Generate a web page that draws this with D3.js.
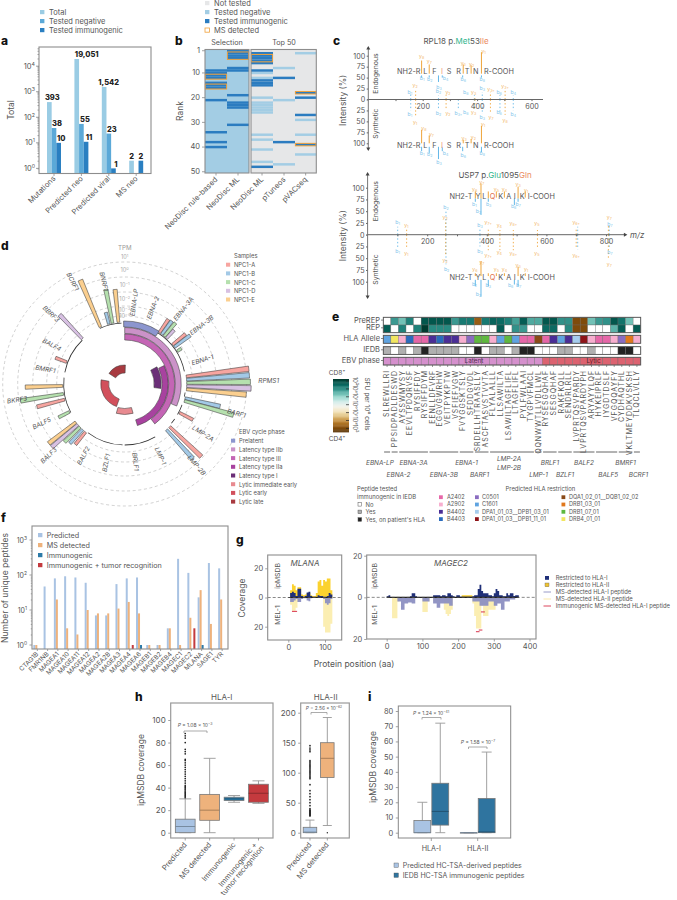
<!DOCTYPE html>
<html><head><meta charset="utf-8">
<script src="https://cdnjs.cloudflare.com/ajax/libs/d3/7.8.5/d3.min.js"></script>
<style>html,body{margin:0;padding:0;background:#fff}svg{display:block}text{font-family:Inter,"Open Sans",sans-serif;fill:#555}</style>
</head><body>
<script>
// ---------- panel a
const aCats=["Mutations","Predicted neo","Predicted viral","MS neo"];
const aTotal=[393,19051,1542,2];
const aNeg=[38,55,23,0];
const aImm=[10,11,1,2];
const aText=[["393","38","10"],["19,051","55","11"],["1,542","23","1"],["2","","2"]];
// ---------- panel b
const bCols=["NeoDisc rule-based","NeoDisc ML","NeoDisc ML","pTuneos","pVACseq"];
const bImm=[[9,10,11,12,14,15,16,21,34,38,40],[1,2,3,4,8,9,19,22,23,24,31],[2,3,4,5,6,9,13,14,15,48],[12,38],[18,20,27,39]];
const bNeg=[[],[],[10,12,20,22,23,24,25,26,35,37,41,46],[8,21,47],[2,29,35,43]];
const bMS=[[11,12,15,16],[2,3,4],[3,4,5],[],[18,39]];
const bTicks=[1,10,20,30,40,50];
// ---------- panel c
const uPeaks=[[156,12,-25,"b"],[174,20,-37,"y"],[258,9,-21,"b"],[286,10,-20,"y"],[331,0,-20,"b"],[390,10,-22,"b"],[392,8,-20,"y"],[419,17,-33,"b"],[449,17,-29,"y"],[484,10,-29,"b"],[503,20,-35,"y"],[533,9,-25,"b"]];
const uPeakLabels=[[153,17,"b1"],[153,-34,"b1"],[172,32,"y2"],[172,-52,"y1"],[258,18,"b2"],[293,17,"y2"],[258,-33,"b2"],[293,-33,"y2"],[331,-33,"b3+"],[358,17,"b6"],[387,17,"y3"],[358,-29,"b6"],[387,-29,"y3"],[419,24,"b3"],[419,-42,"b3"],[451,22,"y3+"],[451,-42,"y7"],[481,17,"b6"],[481,-29,"b6"],[503,30,"y3+"],[503,-48,"y8"],[533,17,"b4"],[533,-34,"b4"]];
const uMarks=[[196,59,89,"y"],[224,59,80,"y"],[349,59,80,"y"],[378,59,78,"y"],[416,59,108,"y"],[196,55,50,"b"],[224,55,50,"b"],[258,55,40,"b"],[272,55,50,"b"],[347,55,50,"b"],[416,55,50,"b"],
 [196,-69,-100,"y"],[224,-82,-100,"y"],[349,-92,-100,"y"],[378,-90,-100,"y"],[416,-60,-100,"y"],[196,-108,-118,"b"],[224,-108,-122,"b"],[258,-108,-136,"b"],[272,-108,-118,"b"],[347,-108,-118,"b"],[416,-108,-120,"b"]];
const uMarkLabels=[[196,98,"y8"],[224,86,"y7"],[349,82,"y3"],[380,80,"y2"],[424,110,"y1"],[198,47,"b1"],[226,45,"b2"],[260,27,"b3"],[284,47,"b4"],[349,45,"b6"],[419,45,"b8"],
 [204,-67,"y8"],[232,-81,"y7"],[352,-88,"y3"],[386,-87,"y2"],[422,-56,"y1"],[198,-124,"b1"],[226,-126,"b2"],[260,-143,"b3"],[284,-124,"b4"],[349,-128,"b6"],[419,-124,"b8"]];
const uSeq=[["NH2-R",192,"end"],["L",210],["F",243],["I",271,"middle","#ef9a80"],["S",297],["R",332],["T",363],["N",395],["R-COOH",425,"start"]];
const lPeaks=[[101,17,-28,"b"],[131,12,-29,"y"],[263,49,-63,"b"],[262,31,-43,"y"],[377,15,-25,"b"],[405,13,-33,"y"],[444,10,-33,"y"],[489,10,-33,"y"],[570,10,-28,"y"],[700,13,-29,"y"],[705,17,-31,"b"],[811,20,-30,"b"],[808,20,-50,"y"]];
const lPeakLabels=[[101,26,"b1"],[101,-35,"b1"],[130,19,"y1"],[130,-41,"y1"],[263,58,"b2"],[260,37,"y2"],[260,-55,"y2"],[265,-73,"b2"],[377,20,"b3"],[377,-36,"b3"],[405,25,"y7+"],[405,-45,"y7+"],[442,19,"y4"],[442,-37,"y4"],[489,24,"y8+"],[489,-40,"y8+"],[568,23,"y5"],[568,-39,"y5"],[700,25,"y6+"],[700,-45,"y6+"],[811,36,"y7"],[813,22,"b7"],[813,-38,"b7"],[811,-63,"y7"]];
const lMarks=[[361.5,77,92,"y"],[380.5,77,109,"y"],[405,77,92,"y"],[432,79,92,"y"],[459,79,92,"y"],[505,77,102,"y"],[529,79,92,"y"],[361.5,77,70,"b"],[380.5,77,42,"b"],[405,77,70,"b"],[492.5,77,63,"b"],[505,77,70,"b"],
 [361.5,-82,-88,"y"],[380.5,-56,-88,"y"],[405,-82,-88,"y"],[432,-82,-88,"y"],[459,-82,-88,"y"],[505,-68,-88,"y"],[529,-82,-88,"y"],[361.5,-96,-110,"b"],[380.5,-96,-132,"b"],[405,-96,-110,"b"],[492.5,-96,-106,"b"],[505,-96,-110,"b"]];
const lMarkLabels=[[359,97,"y6"],[383,111,"y7"],[432,97,"y5"],[459,97,"y4"],[505,106,"y3"],[532,95,"y1"],[358,65,"b1"],[372,49,"b2"],[406,65,"b3"],[490,61,"b6"],[505,65,"b7"],
 [360,-75,"y6"],[383,-59,"y7"],[432,-75,"y5"],[459,-75,"y4"],[505,-66,"y3"],[532,-75,"y1"],[358,-107,"b1"],[372,-128,"b2"],[405,-109,"b3"],[480,-109,"b6"],[507,-109,"b7"]];
const lSeq=[["NH2-T",351.5,"end"],["Y",370.5],["L",391.7],["Q",419.7,"middle","#e2704c"],["K",446.5],["A",473.4],["I",493.5],["K",519.2],["I-COOH",537,"start"]];
// ---------- panel d
const dSamples=["NPC1-A","NPC1-B","NPC1-C","NPC1-D","NPC1-E"];
const dPhases=["Prelatent","Latency type IIb","Latency type III","Latency type IIa","Latency type I","Lytic immediate early","Lytic early","Lytic late"];
const dRadiusLog=[-4,-3,-2,-1,0,1];
const dBars=[ // angle (deg), log10 TPM, sample index
 [34,-2.0,0],[36.8,-1.95,1],[39.7,-1.9,2],[42.5,-2.5,3],[50.6,-1.95,0],[53.4,-1.75,1],[58,-3.2,2],
 [83,1.2,0],[86,1.2,1],[89,1.25,2],[92,1.3,3],[95,1.0,4],[103.2,-0.6,1],[105.9,0.4,2],[117.7,-2.1,0],
 [133.5,-0.1,0],[137.6,-0.4,1],[-140.8,-2.0,0],[-137.3,-1.8,1],[-134,-1.6,2],[-130.9,-0.7,3],[-128,-0.7,4],
 [-116.8,-2.4,2],[-104.6,-1.1,0],[-99.2,-0.1,2],[-91.8,-0.5,4],[-69.3,-2.4,0],[-43.2,-0.8,3],[-23.1,0.4,4],[-14.8,-2.4,1],[-11.3,-0.7,2],[-5.8,-0.8,4]];
const dGeneArcs=[[-24,-3],[-79,-44],[-118,-84],[-178,-143],[150,180],[125,130],[110,120],[98,102],[33,78]];
const dGeneLabels=[["EBNA-LP",8,84],["EBNA-2",21.4,83],["EBNA-3A",38.6,97],["EBNA-3B",53,98],["EBNA-1",73,82],["RPMS1",88.7,144],["BARF1",104.8,115],["LMP-2A",122.6,91.5],["LMP-2B",139,107],["LMP-1",154.6,78.6],["BRLF1",173.5,76.5],["BZLF1",-168,79],["BALF2",-151,81],["BALF3",-133.6,103],["BALF5",-115.6,91],["BKRF3",-98.5,108.5],["BMRF1",-79.6,81],["BALF4",-62,83.6],["BBRF3",-46.8,103],["BCRF1",-27.6,116.6],["BNRF1",-12.5,106.5]];
const dPhaseArcs=[[0,-1,33],[1,0,113],[2,0,143],[3,65,163],[4,62,97],[5,164,196],[6,-160,-80],[7,-56,2]];
// ---------- panel e
const ePeptides=["SLREWLLRI","PPSIDPADLDESWD","AYSSWMYSY","EEVLTPDQRVSF","RYSIFFDY","RYSIFFDYM","EENLLDFVRF","EGGVGWRHW","VEITPYKPTW","VSFIEFVGW","FVYGGSKTSLY","SFDDGVDL","SRDELLHTRAASLLY","ASCFTASVSTVVTA","FLYALALLL","LLSAWILTA","LSAWILTAGFLIFL","LTAGFLIFL","PYLFWLAAI","TYGPVFMCL","QQNWWTLLVDLLWL","RYSESGQHAF","SESGQHAF","RAKFKQLL","SENDRLRLL","LVPRTQSVPARDY","LVPRTQSVPARDYPH","ARYAYYLQF","HYKEIPRLF","IYGDTDSLF","VFGQQAYFY","CYDHAQTHL","VKLTMEYDDKVSKSH","TLQCLVLLY"];
const ePreRep=[null,1.9,1.4,2.2,null,2.8,2.8,2.8,2.8,1.9,2.3,2.3,-2.4,2.3,2.6,2.5,2.2,1.8,2.7,1.7,1.7,2.8,2.8,2.0,2.0,-2.7,-2.7,1.4,1.9,2.0,2.8,2.4,1.4,null];
const eRep=[2.7,null,2.2,null,2.2,3.2,2.1,2.1,2.1,null,null,null,null,null,null,2.7,null,2.0,1.9,null,null,2.5,2.5,null,2.1,-2.7,-2.7,null,null,null,1.6,2.7,null,2.7];
const eAlleleNames=["A2402","A2902","B4402","B4403","C0501","C1601","DPA1_01_03__DPB1_03_01","DPA1_01_03__DPB1_11_01","DQA1_02_01__DQB1_02_02","DRB1_03_01","DRB1_07_01","DRB4_01_01"];
const eAlleleColors=["#e667a8","#f7aecf","#4a2d96","#2a6bbd","#8a6cc0","#5fa3e0","#a6cdee","#8e1318","#8a4a17","#e0781c","#5fb83f","#f2e661"];
const eAllele=[5,11,1,3,0,0,2,3,2,2,1,4,10,10,1,5,10,5,0,0,8,0,2,5,2,6,7,1,0,0,1,4,9,1];
const eIedb=[1,0,1,0,1,2,1,1,1,1,0,0,2,0,1,1,0,1,2,2,0,0,0,1,1,0,0,1,0,0,0,2,2,0];
const eIedbLegend=["No","Yes","Yes, on patient's HLA"];
const eGenes=[["EBNA-LP",0,0,-0.95,0],["EBNA-2",1,1,1.5,1],["EBNA-3A",2,5,3.5,0],["EBNA-3B",6,9,7.5,1],["EBNA-1",10,11,10.5,0],["BARF1",12,13,12.2,1],["LMP-1",20,20,20,1],["BRLF1",21,22,21.5,0],["BZLF1",23,24,23.5,1],["BALF2",25,27,26,0],["BALF5",28,30,29.2,1],["BMRF1",31,32,31.5,0],["BCRF1",33,33,33.2,1]];
const eLmpLines=[14,19];
const eColorTicks=["10\u00b3","10\u00b2","10\u00b9","10\u2070","10\u00b9","10\u00b2","10\u00b3"];
// ---------- panel f
const fGenes=["CTAG1B","FMR1NB","MAGEA1","MAGEA10","MAGEA11","MAGEA12","MAGEA2","MAGEA2B","MAGEA3","MAGEA4","MAGEA6","MAGEB1","MAGEB2","MAGEB4","MAGEC1","MAGEC2","MLANA","SAGE1","TYR"];
const fPred=[1,47,80,92,85,60,7,7,55,80,85,1,1,3,290,115,23,220,155];
const fMS=[1,0,20,3,2,10,8,8,11,17,8,1,1,3,1,6,37,4,20];
const fImm=[0,0,0,0,0,0,0,0,0,0,1,0,0,0,0,0,1,0,0];
const fTum=[0,0,0,0,0,0,0,0,0,1,0,0,0,0,0,3,0,0,0];
const fSeries=["Predicted","MS detected","Immunogenic","Immunogenic + tumor recognition"];
// ---------- panel g (step 5 aa)
const gMlanaTopII=[0,5,9,8,5,7,7,2,1.5,2,3,3,1.5,1,1,3,11,12,8,12,11,13,13,5,0];
const gMlanaTopI=[0,3,4,3,1,6,6,1,.5,1,3.5,4,1,.5,.5,.5,1.5,1,1,.5,.5,1,3,2,0];
const gMlanaBotI=[0,3,3,2,1,3,3,1,.5,.5,2,2.5,.5,.2,.2,.2,.2,.2,.2,1,4,5,4,1,0];
const gMlanaBotII=[0,5,9,9,7,3,0,0,0,0,0,0,0,0,0,0,0,0,0,20,24,24,24,18,0];
const gMagecTopI=[.5,1,0,0,0,0,0,0,0,0,0,0,0,.5,2,2,.5,0,0,0,0,0,0,0,0,0,1,1,1,1,.5,1,1,.5,2,2,1,.5,0,1,1,.3,.3,.3,.3,.3,.3,.3,.5,1,1,4,6,3,2,2,2,1,1,.5,2,4,3,1,1,.5,.5,2,1,2,2,.7,1,1,0];
const gMagecTopII=[0,0,0,0,0,0,0,0,0,0,0,0,0,0,0,0,0,0,0,0,0,0,0,0,0,0,0,0,0,0,0,0,0,0,0,0,0,0,0,0,0,0,1,1,1,1,1,1,0,0,0,0,0,0,0,0,0,0,0,0,0,0,0,0,0,0,0,0,0,0,0,0,0,0,0];
const gMagecBotI=[0,0,0,0,0,0,2,2,6,6,3,3,2.5,2.5,3,3,0,0,0,0,2,2,2,2,0,0,3,3,5,5,3,3,3,3,3,4,4,0,0,0,0,0,0,0,0,0,0,0,2,2,2,2,4,4,4,4,4,2,2,2,4,4,3,3,6,6,2,2,2,1,1,1,0,0,0];
const gMagecBotII=[0,0,0,10,10,10,2,0,0,0,0,0,0,0,0,0,0,0,0,0,7,7,7,2,0,0,2,2,2,2,0,0,6,8,9,8,6,0,0,0,0,0,0,0,0,0,0,0,3,9,15,15,15,4,9,9,9,6,6,6,6,0,0,0,0,0,0,0,0,0,0,0,0,0,0];
const gMlanaRed=[[10,24,9.5]];
const gMagecRed=[[264,275,7],[250,260,16.5],[258,268,15.7]];
const gLegend=["Restricted to HLA-I","Restricted to HLA-II","MS-detected HLA-I peptide","MS-detected HLA-II peptide","Immunogenic MS-detected HLA-I peptide"];
// ---------- panel h
const hCats1=["Predicted","MS detected","Immunogenic","Immunogenic +\ntumor recognition"];
const hStats1=[[0,0,5.5,12,30],[0,11,20,34,66],[27,28.5,30,31.5,33],[26,27,35,43,46]];
const hOut1=[31,32,33,34,35,36,37,38,39,40,41,42,44,46,48,50,52,54,56,58,60,62,64,65,70,72,74,80,84,86,88];
const hCats2=["Predicted","MS detected"];
const hStats2=[[0,0,1,9,21],[12,92,124,150,192]];
const hOut2=[28,29,30,31,32,33,34,35,36,37,38,40,45,50,55,60,65,70,80,90,92,94,96,98,100,102,104,106,108,110,112,114,116,118,120,135,138,141,145];
const hOut2b=[0];
// ---------- panel i
const iCats=["HLA-I","HLA-II"];
const iSeries=["Predicted HC-TSA-derived peptides","IEDB HC-TSA immunogenic peptides"];
const iStats=[[[0,0,0,8,20],[0,5,14,32.5,72]],[[0,0,0,0,0],[0,0,.5,22.5,53]]];

// ---------- shared colours
const cGrey="#8a8a8a";
const cB="#63b8e8", cY="#efa53b";
const cSamp=["#f7a5a0","#a3c9e6","#b5e0ae","#d7c0e2","#fbcf8f"];
const cPhase=["#8c96cf","#cb92c8","#c465b5","#a8429f","#6b2f78","#e88a90","#d2505c","#a83a40"];
const cSer=["#a9c3e3","#eeb27c","#2c7aa8","#c43a3e"];

const svg=d3.select("body").append("svg").attr("width",677).attr("height",900).attr("viewBox","0 0 677 900");
function T(g,x,y,s,o={}){
  const t=g.append("text").attr("x",0).attr("y",0).attr("transform",`translate(${x},${y})`+(o.rot?` rotate(${o.rot})`:""))
   .attr("text-anchor",o.a||"start").attr("font-size",o.s||7.5).text(s);
  if(o.f)t.style("fill",o.f); if(o.w)t.attr("font-weight",o.w); if(o.i)t.attr("font-style","italic"); if(o.ls)t.attr("letter-spacing",o.ls);
  return t;
}
function T2(g,x,y,parts,o={}){
  const t=T(g,x,y,"",o);
  parts.forEach(p=>{const sp=t.append("tspan").text(p[0]);const q=p[1]||{};
    if(q.f)sp.style("fill",q.f);
    if(q.sup){sp.attr("dy",-(o.s||7.5)*.4).attr("font-size",(o.s||7.5)*.7);}
  });
  return t;
}
function frame(g,x0,y0,x1,y1,c="#8d8d8d",w=1.1){g.append("rect").attr("x",x0).attr("y",y0).attr("width",x1-x0).attr("height",y1-y0).attr("fill","none").attr("stroke",c).attr("stroke-width",w);}
function styleAxis(a){a.select(".domain").remove();a.selectAll("line").attr("stroke",cGrey).attr("stroke-width",.8);a.selectAll("text").attr("font-size",7.5);}
const letter=(s,x,y)=>T(svg,x,y,s,{s:12,w:800}).style("fill","#111").attr("font-family","Liberation Sans");
[["a",1,45],["b",175,45],["c",333,45],["d",1,250],["e",332,321],["f",1,522],["g",236,544],["h",135,701],["i",368,701]].forEach(d=>letter(...d));

// ===== a
(function(){
 const g=svg.append("g");
 const x=d3.scaleBand().domain(aCats).range([40.3,149.9]).paddingInner(.49).paddingOuter(.245);
 const xs=d3.scaleBand().domain([0,1,2]).range([0,x.bandwidth()]);
 const y=d3.scaleLog().domain([Math.pow(10,-.2),Math.pow(10,4.75)]).range([173.5,47]);
 const cols=["#9accE4","#5ba9d8","#2a7fc1"];
 const lab=[[3,3,2.5],[10,3.5,3],[4.5,3,2.5],[0,0,0]];
 aCats.forEach((c,i)=>{[aTotal,aNeg,aImm].forEach((arr,j)=>{
   if(arr[i]>0)g.append("rect").attr("x",x(c)+xs(j)).attr("width",xs.bandwidth()).attr("y",y(arr[i])).attr("height",173.5-y(arr[i])).attr("fill",cols[j]);
   if(aText[i][j])T(g,x(c)+xs(j)+xs.bandwidth()/2+lab[i][j],(arr[i]>0?y(arr[i]):0)-1.6,aText[i][j],{s:7.5,a:"middle",w:800}).style("fill","#222");
 });});
 frame(g,39,47,151,173.5);
 const minor=[];for(let e=0;e<5;e++)for(let m=1;m<10;m++){const v=m*Math.pow(10,e);if(y(v)>47)minor.push(v);}
 const a=g.append("g").attr("transform","translate(39,0)").call(d3.axisLeft(y).tickValues(minor).tickFormat("").tickSize(1.5));styleAxis(a);
 [0,1,2,3,4].forEach(e=>{g.append("line").attr("x1",36).attr("x2",39).attr("y1",y(Math.pow(10,e))).attr("y2",y(Math.pow(10,e))).attr("stroke",cGrey).attr("stroke-width",.8);
  T2(g,35,y(Math.pow(10,e))+2.5,[["10"],[e,{sup:1}]],{a:"end",s:7.5});});
 T(g,14,110,"Total",{rot:-90,a:"middle",s:8.5});
 const bx=g.append("g").attr("transform","translate(0,173.5)").call(d3.axisBottom(x).tickSize(2.5).tickFormat(""));styleAxis(bx);
 aCats.forEach(c=>T(g,x(c)+x.bandwidth()/2+2,179,c,{rot:-45,a:"end",s:7.5}));
 ["Total","Tested negative","Tested immunogenic"].forEach((s,i)=>{g.append("rect").attr("x",40).attr("y",10+9*i).attr("width",4.4).attr("height",4.2).attr("fill",cols[i]);T(g,49,14.6+9*i,s,{s:7.5});});
})();

// ===== b
(function(){
 const g=svg.append("g");
 const y=d3.scaleBand().domain(d3.range(1,51)).range([49.5,173]);
 const xs=[205,227,251,273,295],w=[22,22,22,22,21.3];
 const cN="#a3cde4",cNT="#e6e7e8",cI="#2b7cc0";
 bCols.forEach((c,i)=>{
   g.append("rect").attr("x",xs[i]).attr("y",49.5).attr("width",w[i]).attr("height",123.5).attr("fill",i<2?cN:cNT);
   bNeg[i].forEach(r=>g.append("rect").attr("x",xs[i]).attr("y",y(r)).attr("width",w[i]).attr("height",y.bandwidth()).attr("fill",cN));
   bImm[i].forEach(r=>g.append("rect").attr("x",xs[i]).attr("y",y(r)).attr("width",w[i]).attr("height",y.bandwidth()).attr("fill",cI));
 });
 bCols.forEach((c,i)=>{const rs=bMS[i];let k=0;while(k<rs.length){let e=k;while(e+1<rs.length&&rs[e+1]==rs[e]+1)e++;
   g.append("rect").attr("x",xs[i]+.4).attr("y",y(rs[k])).attr("width",w[i]-.8).attr("height",y(rs[e])+y.bandwidth()-y(rs[k])).attr("fill","none").attr("stroke","#f0a03a").attr("stroke-width",1);k=e+1;}});
 frame(g,205,49.5,249,173);frame(g,251,49.5,316.3,173);
 const a=g.append("g").attr("transform","translate(205,0)").call(d3.axisLeft(y).tickValues(bTicks).tickSize(3).tickPadding(2));styleAxis(a);
 T(g,183,111,"Rank",{rot:-90,a:"middle",s:8.5});
 T(g,227,45,"Selection",{a:"middle",s:7.2});T(g,284,45,"Top 50",{a:"middle",s:7.2});
 bCols.forEach((c,i)=>{const cx=xs[i]+w[i]/2;g.append("line").attr("x1",cx).attr("x2",cx).attr("y1",173).attr("y2",175.5).attr("stroke",cGrey).attr("stroke-width",.8);
  T(g,cx+2,180,c,{rot:-45,a:"end",s:7.5});});
 const lg=[["Not tested",cNT],["Tested negative",cN],["Tested immunogenic",cI],["MS detected",null]];
 lg.forEach((d,i)=>{const yy=1+9*i;const r=g.append("rect").attr("x",205).attr("y",yy).attr("width",4.4).attr("height",4.2);
   if(d[1])r.attr("fill",d[1]);else r.attr("fill","none").attr("stroke","#f0a03a").attr("stroke-width",.8);
   T(g,214,yy+4.6,d[0],{s:7.5});});
})();

// ===== c
function spectrum(o){
 const g=svg.append("g");
 const x=d3.scaleLinear().domain([0,o.xMax]).range([o.x0,o.x0+o.xMax*o.k]);
 const y=d3.scaleLinear().domain([-100,100]).range([o.yB,o.yT]);
 const col=c=>c=="b"?cB:cY;
 const lab=(arr)=>arr.forEach(d=>{const c=d[2][0]=="b"?cB:cY;const rest=d[2].slice(1);
   const t=T(g,x(d[0]),y(d[1])+1.5,d[2][0],{a:"middle",s:5.2}).style("fill",c).style("opacity",.8);
   t.append("tspan").attr("font-size",3.6).attr("dy",1).text(rest);});
 o.peaks.forEach(d=>{[d[1],d[2]].forEach(v=>{if(!v)return;g.append("line").attr("x1",x(d[0])).attr("x2",x(d[0])).attr("y1",y(0)).attr("y2",y(v)).attr("stroke",col(d[3])).attr("stroke-width",.9).attr("stroke-dasharray","1.4 2.2");});});
 o.marks.forEach(d=>g.append("line").attr("x1",x(d[0])).attr("x2",x(d[0])).attr("y1",y(d[1])).attr("y2",y(d[2])).attr("stroke",col(d[3])).attr("stroke-width",1));
 lab(o.peakLabels);lab(o.markLabels);
 o.textY.forEach(ti=>o.seq.forEach(s=>{T(g,x(s[1]),y(ti)+2.6,s[0],{a:s[2]||"middle",s:7.3}).style("fill",s[3]||"#555");}));
 const ax=g.append("g").attr("transform",`translate(0,${y(0)})`).call(d3.axisBottom(x).tickValues(o.xt).tickSize(1.6).tickFormat(d=>d%200==0?d:""));
 ax.select(".domain").remove();ax.selectAll("line").attr("stroke","#666");ax.selectAll("text").attr("font-size",7.2).attr("y",4);
 g.append("line").attr("x1",o.x0-1).attr("x2",o.axEnd).attr("y1",y(0)).attr("y2",y(0)).attr("stroke","#666").attr("stroke-width",1);
 g.append("line").attr("x1",o.x0).attr("x2",o.x0).attr("y1",o.axT).attr("y2",o.axB).attr("stroke","#777").attr("stroke-width",1);
 const tri=(px,py,r)=>g.append("path").attr("d","M-2,2.6L0,-1L2,2.6Z").attr("transform",`translate(${px},${py}) rotate(${r})`).attr("fill","#444");
 tri(o.x0,o.axT,0);tri(o.x0,o.axB,180);
 const ticks=[-100,-75,-50,-25,0,25,50,75,100];
 const ay=g.append("g").attr("transform",`translate(${o.x0},0)`).call(d3.axisLeft(y).tickValues(ticks).tickSize(1.6).tickPadding(1.5).tickFormat(d=>Math.abs(d)));
 ay.select(".domain").remove();ay.selectAll("line").attr("stroke","#666");ay.selectAll("text").attr("font-size",7.2);
 T(g,345.5,(o.yT+o.yB)/2+1,"Intensity (%)",{rot:-90,a:"middle",s:8.5});
 T(g,o.x0+10,y(50)+o.endoD,"Endogenous",{rot:-90,a:"middle",s:6.8});
 T(g,o.x0+10,y(-55)+o.synD,"Synthetic",{rot:-90,a:"middle",s:6.8});
 T2(g,o.titleX,o.titleY,o.title,{a:"middle",s:8});
 return {g,x,y};
}
spectrum({x0:368.3,k:.272,xMax:650,yT:55.7,yB:143.3,peaks:uPeaks,marks:uMarks,peakLabels:uPeakLabels,markLabels:uMarkLabels,seq:uSeq,textY:[65,-104],xt:[100,200,300,400,500,600],axEnd:543,axT:47,axB:150,titleX:456,titleY:44,endoD:-4,synD:0,
 title:[["RPL18 p."],["Met",{f:"#2fb58c"}],["53"],["Ile",{f:"#ea8a60"}]]});
const sp2=spectrum({x0:367.6,k:.298,xMax:870,yT:187.7,yB:281.7,peaks:lPeaks,marks:lMarks,peakLabels:lPeakLabels,markLabels:lMarkLabels,seq:lSeq,textY:[82.3,-91.5],xt:[100,200,300,400,500,600,700,800],axEnd:625,axT:173,axB:298,titleX:495,titleY:177.5,endoD:-10,synD:9,
 title:[["USP7 p."],["Glu",{f:"#2fb58c"}],["1095"],["Gln",{f:"#ea8a60"}]]});
sp2.g.append("path").attr("d","M0,-2L3.5,0L0,2Z").attr("transform",`translate(${sp2.x(860)},${sp2.y(0)})`).attr("fill","#444");
T(sp2.g,630,237.5,"m/z",{s:8,i:1});

// ===== d
(function(){
 const g=svg.append("g").attr("transform","translate(124.7,384)");
 const r=d3.scaleLinear().domain(dRadiusLog).range([62,68,78,92,107,122]);
 dRadiusLog.slice(1).forEach(v=>{g.append("circle").attr("r",r(v)).attr("fill","none").attr("stroke","#bdbdbd").attr("stroke-width",.7).attr("stroke-dasharray","3 2.6");});
 T(g,0,-134,"TPM",{a:"middle",s:6.2}).style("fill","#999");
 dRadiusLog.forEach((v,i)=>{const yp=[-66,-72,-83,-97,-112,-125][i];const t=T2(g,0,yp,[["10"],[v<0?"\u2212"+(-v):v,{sup:1}]],{a:"middle",s:5.6});t.selectAll("tspan").style("fill","#aaa");});
 const rad=d=>d*Math.PI/180;
 const arc=d3.arc();
 dGeneArcs.forEach(d=>g.append("path").attr("d",arc({innerRadius:60.6,outerRadius:61.4,startAngle:rad(d[0]),endAngle:rad(d[1])})).attr("fill","#333"));
 dBars.forEach(d=>g.append("path").attr("d",arc({innerRadius:62,outerRadius:r(d[1]),startAngle:rad(d[0]-1.25),endAngle:rad(d[0]+1.25)})).attr("fill",cSamp[d[2]]).attr("stroke","#3a3a3a").attr("stroke-width",.55));
 const rings=[[57,63],[50.5,56.5],[44,50],[37.5,43.5],[29.5,36.5],[24.5,30.5],[16,24],[11,19]];
 dPhaseArcs.forEach(d=>g.append("path").attr("d",arc({innerRadius:rings[d[0]][0],outerRadius:rings[d[0]][1],startAngle:rad(d[1]),endAngle:rad(d[2])})).attr("fill",cPhase[d[0]]).attr("stroke","#3a3a3a").attr("stroke-width",.55));
 dGeneLabels.forEach(d=>{const th=d[1],px=d[2]*Math.sin(rad(th)),py=-d[2]*Math.cos(rad(th));
   let rt=th>=0&&th<=180?th-90:th+90; if(d[0]=="RPMS1")rt=0;
   T(g,px,py+2,d[0],{a:"middle",s:6.4,rot:rt,i:1});});
 const l=svg.append("g");
 T(l,234,258,"Samples",{s:5.8});
 dSamples.forEach((s,i)=>{l.append("rect").attr("x",226).attr("y",262.7+8.7*i).attr("width",4.2).attr("height",4).attr("fill",cSamp[i]);T(l,234,267.2+8.7*i,s,{s:5.8});});
 T(l,239,434,"EBV cycle phase",{s:5.8});
 dPhases.forEach((s,i)=>{l.append("rect").attr("x",231).attr("y",438.7+8.7*i).attr("width",4.2).attr("height",4).attr("fill",cPhase[i]);T(l,239,443.2+8.7*i,s,{s:5.8});});
})();

// ===== e
(function(){
 const g=svg.append("g");
 const x=d3.scaleBand().domain(d3.range(34)).range([383.3,640.7]);
 const bw=x.bandwidth();
 const col=d3.scaleLinear().domain([-3.2,3.2]).range([0,1]);
 const heat=v=>v===null?"#fff":d3.interpolateBrBG(col(v));
 const row=(yy,h,fillF)=>{
   ePeptides.forEach((p,i)=>g.append("rect").attr("x",x(i)).attr("y",yy).attr("width",bw).attr("height",h).attr("fill",fillF(i)).attr("stroke","#6a6a6a").attr("stroke-width",.35));
 };
 row(317.3,7.7,i=>heat(ePreRep[i]));row(325,7.7,i=>heat(eRep[i]));
 row(335.3,8,i=>eAlleleColors[eAllele[i]]);
 const iedC=["#fff","#b0b0b0","#222"];
 row(346.7,7.7,i=>iedC[eIedb[i]]);
 row(357.3,7.7,i=>i<=20?"#d590cd":"#dc6270");
 [[317.3,332.7],[335.3,343.3],[346.7,354.4],[357.3,365]].forEach(d=>frame(g,383.3,d[0],640.7,d[1],"#555",.9));
 [["PreREP",322.6],["REP",330.3],["HLA Allele",341],["IEDB",352.3],["EBV phase",363]].forEach(d=>{T(g,380,d[1],d[0],{a:"end",s:7.5});g.append("line").attr("x1",381).attr("x2",383.3).attr("y1",d[1]-2.5).attr("y2",d[1]-2.5).attr("stroke","#555").attr("stroke-width",.7);});
 T(g,x(12)+bw/2-4,363.4,"Latent",{a:"middle",s:6.4}).style("fill","#5a2a55");
 T(g,x(27)+bw/2+2,363.4,"Lytic",{a:"middle",s:6.4}).style("fill","#6a1a25");
 ePeptides.forEach((p,i)=>{const cx=x(i)+bw/2;g.append("line").attr("x1",cx).attr("x2",cx).attr("y1",365).attr("y2",367).attr("stroke","#555").attr("stroke-width",.6);
   T(g,cx+2.4,370,p,{rot:-90,a:"end",s:7,ls:.95});});
 eGenes.forEach(d=>{g.append("line").attr("x1",x(d[1])+.8).attr("x2",x(d[2])+bw-.8).attr("y1",452).attr("y2",452).attr("stroke","#666").attr("stroke-width",1);
   T(g,x(0)+bw*(d[3]+.5),d[4]?477:465,d[0],{a:"middle",s:6.4,i:1});});
 g.append("line").attr("x1",x(eLmpLines[0])+.8).attr("x2",x(eLmpLines[1])+bw-.8).attr("y1",452).attr("y2",452).attr("stroke","#666").attr("stroke-width",1);
 T(g,509,461,"LMP-2A",{a:"middle",s:6.4,i:1});T(g,509,470,"LMP-2B",{a:"middle",s:6.4,i:1});
 const cy=d3.scaleLinear().domain([3.2,-3.2]).range([379,432]);
 d3.range(3.2,-3.2,-.1).forEach(v=>g.append("rect").attr("x",333).attr("y",cy(v)).attr("width",16).attr("height",1.2).attr("fill",heat(v)));
 eColorTicks.forEach((s,i)=>{const yy=381+i*7.9;g.append("line").attr("x1",346).attr("x2",349).attr("y1",yy).attr("y2",yy).attr("stroke","#222").attr("stroke-width",.7);
   T(g,353,yy,s,{rot:90,a:"middle",s:5.5});});
 T(g,337,375,"CD8\u207a",{a:"middle",s:6.6});T(g,337,441,"CD4\u207a",{a:"middle",s:6.6});
 T(g,365,404,"SFU per 10\u2076 cells",{rot:90,a:"middle",s:6.6});
 T(g,357,491,"Peptide tested",{s:5.9});T(g,357,499,"immunogenic in IEDB",{s:5.9});
 eIedbLegend.forEach((s,i)=>{g.append("rect").attr("x",358).attr("y",502.5+7.6*i).attr("width",3.6).attr("height",3.6).attr("fill",iedC[i]).attr("stroke","#555").attr("stroke-width",.5);T(g,365.5,506.5+7.6*i,s,{s:5.9});});
 T(g,505.5,491,"Predicted HLA restriction",{s:5.9});
 const lx=[[439,447],[475,482],[561.5,569]];
 eAlleleNames.forEach((s,i)=>{const c=Math.floor(i/4),rw=i%4;const yy=495.3+7.3*rw;
   g.append("rect").attr("x",lx[c][0]).attr("y",yy).attr("width",3.8).attr("height",3.8).attr("fill",eAlleleColors[i]);
   T(g,lx[c][1],yy+3.8,s,{s:5.6});});
})();

// ===== f
(function(){
 const g=svg.append("g");
 const x=d3.scaleBand().domain(fGenes).range([32.2,227.3]).paddingInner(.22).paddingOuter(.11);
 const xs=d3.scaleBand().domain([0,1,2,3]).range([0,x.bandwidth()]);
 const y=d3.scaleLog().domain([Math.pow(10,-.114),Math.pow(10,3.4)]).range([649,526]);
 [fPred,fMS,fImm,fTum].forEach((arr,j)=>arr.forEach((v,i)=>{if(v>0)g.append("rect").attr("x",x(fGenes[i])+xs(j)).attr("width",xs.bandwidth()).attr("y",y(v)).attr("height",649-y(v)).attr("fill",cSer[j]);}));
 frame(g,32,526,228,649);
 const minor=[];for(let e=0;e<3;e++)for(let m=2;m<10;m++)minor.push(m*Math.pow(10,e));
 const a0=g.append("g").attr("transform","translate(32,0)").call(d3.axisLeft(y).tickValues(minor).tickFormat("").tickSize(1.2));styleAxis(a0);
 [0,1,2,3].forEach(e=>{const yy=y(Math.pow(10,e));g.append("line").attr("x1",29.5).attr("x2",32).attr("y1",yy).attr("y2",yy).attr("stroke",cGrey).attr("stroke-width",.8);T2(g,27,yy+2.5,[["10"],[e,{sup:1}]],{a:"end",s:7});});
 T(g,8,588,"Number of unique peptides",{rot:-90,a:"middle",s:8.5});
 fGenes.forEach(c=>{const cx=x(c)+x.bandwidth()/2;g.append("line").attr("x1",cx).attr("x2",cx).attr("y1",649).attr("y2",651).attr("stroke",cGrey).attr("stroke-width",.8);
   T(g,cx+1.5,654.5,c,{rot:-45,a:"end",s:6.4});});
 fSeries.forEach((s,i)=>{g.append("rect").attr("x",38).attr("y",533+10*i).attr("width",4.4).attr("height",4.2).attr("fill",cSer[i]);T(g,46.7,538+10*i,s,{s:7.2});});
})();

// ===== g
function coverage(o){
 const g=svg.append("g");
 const x=d3.scaleLinear().domain(o.xd).range(o.xr);
 const y=d3.scaleLinear().domain([-20,20]).range([o.yB,o.yT]);
 const area=(arr,f,op)=>{g.append("path").datum(arr).attr("fill",f).attr("opacity",op||1).attr("d",d3.area().curve(d3.curveStepAfter).x((d,i)=>x(i*5)).y0(y(0)).y1(d=>y(d)));};
 area(o.botII.map(v=>-v),"#fbeeb2");
 area(o.botI.map(v=>-v),"#8c8fc2",.95);
 area(o.topII,"#fbd22e");
 area(o.topI,"#1f2f78");
 (o.red||[]).forEach(d=>g.append("line").attr("x1",x(d[0])).attr("x2",x(d[1])).attr("y1",y(-d[2])).attr("y2",y(-d[2])).attr("stroke","#d8324a").attr("stroke-width",1));
 g.append("line").attr("x1",x(0)).attr("x2",x(o.end)).attr("y1",y(0)).attr("y2",y(0)).attr("stroke","#222").attr("stroke-width",1.1);
 g.append("line").attr("x1",o.x0).attr("x2",o.x1).attr("y1",y(0)).attr("y2",y(0)).attr("stroke","#555").attr("stroke-width",.7).attr("stroke-dasharray","3 2");
 frame(g,o.x0,o.yF0,o.x1,o.yF1);
 const a=g.append("g").attr("transform",`translate(${o.x0},0)`).call(d3.axisLeft(y).tickValues([-20,0,20]).tickFormat(d=>Math.abs(d)).tickSize(2.5).tickPadding(2));styleAxis(a);
 const b=g.append("g").attr("transform",`translate(0,${o.yF1})`).call(d3.axisBottom(x).tickValues(o.xt).tickSize(2.5).tickPadding(2));styleAxis(b);
 T(g,o.lx,576,"ipMSDB",{rot:-90,a:"middle",s:6.8});T(g,o.lx,615,"MEL-1",{rot:-90,a:"middle",s:6.8});
 T(g,o.tx,566,o.name,{a:"middle",s:8,i:1});
}
coverage({name:"MLANA",xd:[0,100],xr:[288.3,325],yT:568.3,yB:626.7,x0:267.7,x1:341.7,yF0:555,yF1:640,xt:[0,100],topI:gMlanaTopI,topII:gMlanaTopII,botI:gMlanaBotI,botII:gMlanaBotII,red:gMlanaRed,end:118,lx:280,tx:305});
coverage({name:"MAGEC2",xd:[0,100],xr:[386.7,422.4],yT:555.7,yB:639,x0:366.7,x1:536,yF0:555,yF1:639,xt:[0,100,200,300,400],topI:gMagecTopI,topII:gMagecTopII,botI:gMagecBotI,botII:gMagecBotII,red:gMagecRed,end:370,lx:377,tx:451});
T(svg,244.5,598,"Coverage",{rot:-90,a:"middle",s:8.5});
T(svg,354,667,"Protein position (aa)",{a:"middle",s:8.5});
(function(){const g=svg.append("g");const gy=i=>579+7*i;
 gLegend.forEach((s,i)=>{T(g,555.7,gy(i)+1,s,{s:5.8});});
 g.append("rect").attr("x",545).attr("y",gy(0)-3).attr("width",4).attr("height",3.8).attr("fill","#1f2f78");
 g.append("rect").attr("x",545).attr("y",gy(1)-3).attr("width",4).attr("height",3.8).attr("fill","#f0c430").attr("stroke","#666").attr("stroke-width",.4);
 ["#8c8fc2","#fbe7a0","#d8324a"].forEach((c,i)=>g.append("line").attr("x1",543.5).attr("x2",551).attr("y1",gy(i+2)-1).attr("y2",gy(i+2)-1).attr("stroke",c).attr("stroke-width",.9));
})();

// ===== h, i
function box(g,xL,w,st,y,c,cap=12){
 const cx=xL+w/2;
 g.append("line").attr("x1",cx).attr("x2",cx).attr("y1",y(st[0])).attr("y2",y(st[4])).attr("stroke","#888").attr("stroke-width",.8);
 [st[0],st[4]].forEach(v=>g.append("line").attr("x1",cx-cap/2).attr("x2",cx+cap/2).attr("y1",y(v)).attr("y2",y(v)).attr("stroke","#999").attr("stroke-width",.9));
 g.append("rect").attr("x",xL).attr("width",w).attr("y",y(st[3])).attr("height",Math.max(y(st[1])-y(st[3]),.4)).attr("fill",c).attr("stroke","#787878").attr("stroke-width",.8);
 g.append("line").attr("x1",xL).attr("x2",xL+w).attr("y1",y(st[2])).attr("y2",y(st[2])).attr("stroke",d3.color(c).darker(1.1)).attr("stroke-width",.9);
}
function pLabel(g,x,yy,m,e,s=5){T2(g,x,yy,[["P",{}],[" = "+m+" \u00d7 10"],[e,{sup:1}]],{s,a:"middle"}).select("tspan").attr("font-style","italic");}
function bracket(g,x0,x1,yy){g.append("path").attr("d",`M${x0},${yy+2}V${yy}H${x1}V${yy+2}`).attr("fill","none").attr("stroke","#888").attr("stroke-width",.7);}
(function(){
 const g=svg.append("g");
 const x=d3.scaleBand().domain(hCats1).range([170.7,273]).padding(.19);
 const y=d3.scaleLinear().domain([0,100]).range([832.7,720]);
 hStats1.forEach((s,i)=>box(g,x(hCats1[i]),x.bandwidth(),s,y,cSer[i]));
 hOut1.forEach(v=>g.append("circle").attr("cx",x(hCats1[0])+x.bandwidth()/2).attr("cy",y(v)).attr("r",.85).attr("fill","#222"));
 frame(g,170.7,703,273,838,"#9a9a9a",1.2);
 const a=g.append("g").attr("transform","translate(170.7,0)").call(d3.axisLeft(y).tickValues([0,20,40,60,80,100]).tickSize(2.5).tickPadding(2.5));styleAxis(a);a.selectAll("text").attr("font-size",8);
 T(g,144,770,"ipMSDB coverage",{rot:-90,a:"middle",s:8.5});
 T(g,221.7,700,"HLA-I",{a:"middle",s:8});
 bracket(g,184,207,731);pLabel(g,195,727,"1.08","\u22123");
 hCats1.forEach((c,i)=>{const cx=x(c)+x.bandwidth()/2;g.append("line").attr("x1",cx).attr("x2",cx).attr("y1",838).attr("y2",840.5).attr("stroke",cGrey).attr("stroke-width",.8);
   const ps=c.split("\n");
   if(ps.length==1)T(g,cx+2,845,c,{rot:-50,a:"end",s:7.5});
   else{T(g,cx-1,845,ps[0],{rot:-50,a:"end",s:7.5});T(g,cx+6,848,ps[1],{rot:-50,a:"end",s:7.5});}
 });
 const g2=svg.append("g");
 const x2=d3.scaleBand().domain(hCats2).range([301.3,336]).paddingInner(.22).paddingOuter(.11);
 const y2=d3.scaleLinear().domain([0,200]).range([832.7,712.7]);
 hStats2.forEach((s,i)=>box(g2,x2(hCats2[i]),x2.bandwidth(),s,y2,cSer[i],9));
 hOut2.forEach(v=>g2.append("circle").attr("cx",x2(hCats2[0])+x2.bandwidth()/2).attr("cy",y2(v)).attr("r",.85).attr("fill","#222"));
 hOut2b.forEach(v=>g2.append("circle").attr("cx",x2(hCats2[1])+x2.bandwidth()/2).attr("cy",y2(v)).attr("r",.7).attr("fill","#222"));
 frame(g2,300.7,703,349.3,838,"#9a9a9a",1.2);
 const a2=g2.append("g").attr("transform","translate(300.7,0)").call(d3.axisLeft(y2).tickValues([0,50,100,150,200]).tickSize(2.5).tickPadding(2.5));styleAxis(a2);a2.selectAll("text").attr("font-size",8);
 T(g2,325.7,700,"HLA-II",{a:"middle",s:8});
 bracket(g2,311,327,712.5);pLabel(g2,324,710,"2.56","\u221262",4.8);
 hCats2.forEach(c=>{const cx=x2(c)+x2.bandwidth()/2;g2.append("line").attr("x1",cx).attr("x2",cx).attr("y1",838).attr("y2",840.5).attr("stroke",cGrey).attr("stroke-width",.8);T(g2,cx+2,845,c,{rot:-50,a:"end",s:7.5});});
 const g3=svg.append("g");
 const xi=d3.scaleBand().domain(iCats).range([408.1,500.9]).paddingInner(.25).paddingOuter(.125);
 const xin=d3.scaleBand().domain([0,1]).range([0,xi.bandwidth()]).paddingInner(.06);
 const yi=d3.scaleLinear().domain([0,80]).range([832.7,711]);
 const ci=[cSer[0],"#2f749f"];
 iCats.forEach((c,i)=>iStats[i].forEach((s,j)=>box(g3,xi(c)+xin(j),xin.bandwidth(),s,yi,ci[j],10)));
 frame(g3,398.3,706,510.7,838,"#888",1);
 const a3=g3.append("g").attr("transform","translate(398.3,0)").call(d3.axisLeft(yi).tickValues(d3.range(0,81,10)).tickSize(2.5).tickPadding(2.5));styleAxis(a3);a3.selectAll("text").attr("font-size",7.5);
 T(g3,376,767,"ipMSDB coverage",{rot:-90,a:"middle",s:8.5});
 iCats.forEach(c=>{const cx=xi(c)+xi.bandwidth()/2;g3.append("line").attr("x1",cx).attr("x2",cx).attr("y1",838).attr("y2",841).attr("stroke",cGrey).attr("stroke-width",.8);T(g3,cx,851,c,{a:"middle",s:7.2});});
 bracket(g3,422,441,717.5);pLabel(g3,431,715,"1.24","\u221241",5);
 bracket(g3,468.5,487,747);pLabel(g3,478,744,"1.58","\u22127",5);
 iSeries.forEach((s,i)=>{g3.append("rect").attr("x",394).attr("y",863+10*i).attr("width",4.4).attr("height",4.4).attr("fill",ci[i]).attr("stroke","#555").attr("stroke-width",.4);T(g3,402.7,868+10*i,s,{s:7});});
})();
</script>
</body></html>
